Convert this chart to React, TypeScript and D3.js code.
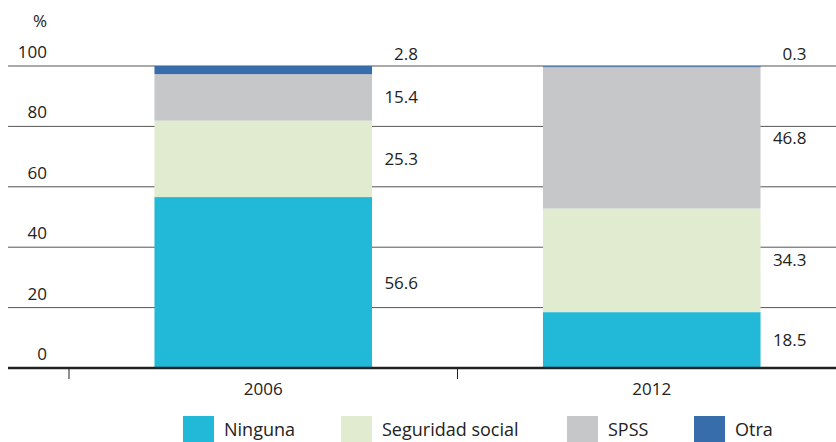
import React, { useRef, useEffect } from "react";
import * as d3 from "d3";

const years = ["2006", "2012"];
const seriesNames = ["Ninguna", "Seguridad social", "SPSS", "Otra"];
const colors = ["#22b8d8", "#e0ebd0", "#c6c7c9", "#386dab"];
const ninguna = [56.6, 18.5];
const seguridad = [25.3, 34.3];
const spss = [15.4, 46.8];
const otra = [2.8, 0.3];
const yTicks = [0, 20, 40, 60, 80, 100];

const FONT = "'Open Sans', sans-serif";

const App = () => {
  const svgRef = useRef<SVGSVGElement>(null);

  useEffect(() => {
    const width = 836, height = 442;
    const svg = d3.select(svgRef.current)
      .attr("width", width)
      .attr("height", height);
    svg.selectAll("*").remove();

    const rows = years.map((yr, i) => ({
      year: yr,
      Ninguna: ninguna[i],
      "Seguridad social": seguridad[i],
      SPSS: spss[i],
      Otra: otra[i],
    }));
    const stacked = d3.stack<any>().keys(seriesNames)(rows);

    const x = d3.scaleBand().domain(years).range([69, 846]);
    const y = d3.scaleLinear().domain([0, 100]).range([368, 66]);
    const color = d3.scaleOrdinal<string>().domain(seriesNames).range(colors);

    const barX = (yr: string) => x(yr)! + x.step() * 0.22;
    const barW = x.step() * 0.56;

    // gridlines + y labels
    yTicks.forEach(t => {
      if (t > 0) {
        svg.append("line")
          .attr("x1", 8).attr("x2", width)
          .attr("y1", y(t)).attr("y2", y(t))
          .attr("stroke", "#555").attr("stroke-width", 1);
      }
      svg.append("text")
        .attr("x", 47).attr("y", y(t) - 8)
        .attr("text-anchor", "end")
        .style("font-family", FONT).style("font-size", "17px")
        .attr("fill", "#222")
        .text(t);
    });
    svg.append("text")
      .attr("x", 47).attr("y", 27)
      .attr("text-anchor", "end")
      .style("font-family", FONT).style("font-size", "17px")
      .attr("fill", "#222")
      .text("%");

    // bars
    stacked.forEach(layer => {
      svg.append("g").selectAll("rect")
        .data(layer)
        .enter().append("rect")
        .attr("x", d => barX(d.data.year))
        .attr("width", barW)
        .attr("y", d => y(Math.min(d[1], 100)))
        .attr("height", d => y(d[0]) - y(Math.min(d[1], 100)))
        .attr("fill", color(layer.key));
    });

    // value labels
    stacked.forEach((layer, li) => {
      layer.forEach(d => {
        const top = li === seriesNames.length - 1;
        const ly = top ? y(100) - 6 : y((d[0] + d[1]) / 2) + 6;
        svg.append("text")
          .attr("x", barX(d.data.year) + barW + 46)
          .attr("y", ly)
          .attr("text-anchor", "end")
          .style("font-family", FONT).style("font-size", "17px")
          .attr("fill", "#222")
          .text((d[1] - d[0]).toFixed(1));
      });
    });

    // baseline + ticks
    svg.append("line")
      .attr("x1", 8).attr("x2", width)
      .attr("y1", y(0)).attr("y2", y(0))
      .attr("stroke", "#222").attr("stroke-width", 2.5);
    years.forEach(yr => {
      svg.append("line")
        .attr("x1", x(yr)!).attr("x2", x(yr)!)
        .attr("y1", y(0)).attr("y2", y(0) + 11)
        .attr("stroke", "#222").attr("stroke-width", 1);
      svg.append("text")
        .attr("x", barX(yr) + barW / 2).attr("y", 395)
        .attr("text-anchor", "middle")
        .style("font-family", FONT).style("font-size", "17px")
        .attr("fill", "#222")
        .text(yr);
    });

    // legend
    const legendX = [183, 341, 567, 694];
    seriesNames.forEach((name, i) => {
      svg.append("rect")
        .attr("x", legendX[i]).attr("y", 416)
        .attr("width", 31).attr("height", 27)
        .attr("fill", colors[i]);
      svg.append("text")
        .attr("x", legendX[i] + 41).attr("y", 436)
        .style("font-family", FONT).style("font-size", "18px")
        .attr("fill", "#222")
        .text(name);
    });
  }, []);

  return (
    <div style={{ position: "absolute", left: 0, top: 0 }}>
      <svg ref={svgRef}></svg>
    </div>
  );
};

export default App;
